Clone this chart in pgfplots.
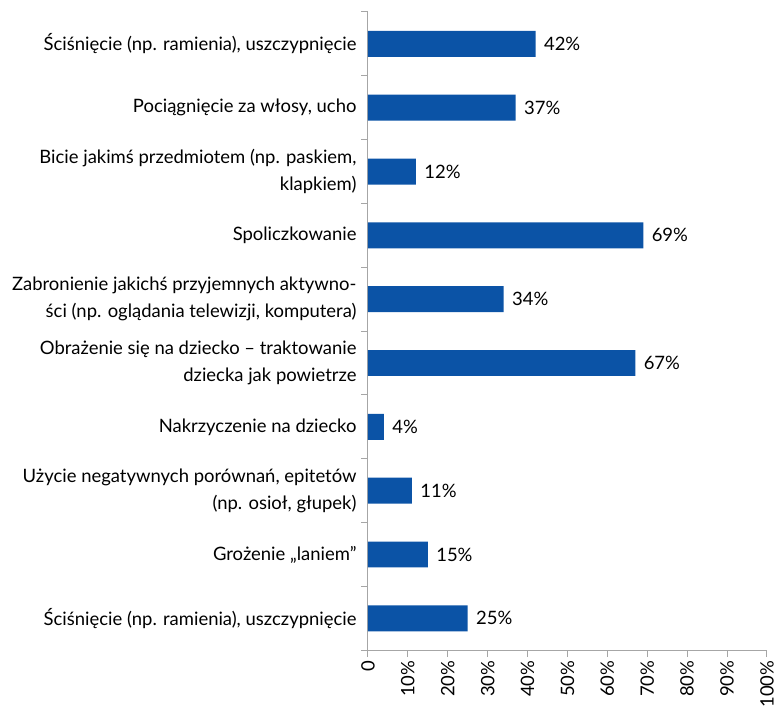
\documentclass[border=0pt]{standalone}
\usepackage{pgfplots}
\pgfplotsset{compat=1.18}
\usepackage{fontspec}
\setmainfont{Lato}
\definecolor{barblue}{RGB}{11,83,166}
\definecolor{axisgray}{RGB}{166,166,166}

\begin{document}
\begin{tikzpicture}
\begin{axis}[
    scale only axis,
    width=400pt, height=640pt,
    xmin=0, xmax=100,
    ymin=-0.5, ymax=9.5,
    y dir=reverse,
    axis x line*=bottom,
    axis y line*=left,
    axis line style={axisgray, line width=1pt},
    tick align=outside,
    major tick length=7pt,
    /pgf/number format/assume math mode=true,
    xtick={0,10,...,100},
    xticklabels={0,10\%,20\%,30\%,40\%,50\%,60\%,70\%,80\%,90\%,100\%},
    xticklabel style={rotate=90, anchor=east, font=\fontsize{18.5}{22}\selectfont},
    xtick style={axisgray, line width=1pt},
    ytick={0,...,9},
    yticklabels={
        {Ściśnięcie (np. ramienia), uszczypnięcie},
        {Pociągnięcie za włosy, ucho},
        {Bicie jakimś przedmiotem (np. paskiem,\\klapkiem)},
        {Spoliczkowanie},
        {Zabronienie jakichś przyjemnych aktywno-\\ści (np. oglądania telewizji, komputera)},
        {Obrażenie się na dziecko – traktowanie\\dziecka jak powietrze},
        {Nakrzyczenie na dziecko},
        {Użycie negatywnych porównań, epitetów\\(np. osioł, głupek)},
        {Grożenie „laniem”},
        {Ściśnięcie (np. ramienia), uszczypnięcie}},
    yticklabel style={align=right, font=\fontsize{18.5}{27}\selectfont, xshift=-1pt},
    ytick style={draw=none},
    extra y ticks={-0.5,0.5,...,9.5},
    extra y tick labels={},
    extra y tick style={ytick style={draw=axisgray, line width=1pt}},
    clip=false,
]
\addplot[xbar, fill=barblue, draw=none, bar width=26pt,
    nodes near coords={\pgfmathprintnumber{\pgfplotspointmeta}\%},
    every node near coord/.append style={anchor=west, xshift=5pt, font=\fontsize{18.5}{22}\selectfont, text=black}]
    coordinates {(42,0) (37,1) (12,2) (69,3) (34,4) (67,5) (4,6) (11,7) (15,8) (25,9)};
\end{axis}
\path ([shift={(-369pt,-58pt)}]current axis.south west) rectangle ([shift={(8pt,12pt)}]current axis.north east);
\end{tikzpicture}
\end{document}
